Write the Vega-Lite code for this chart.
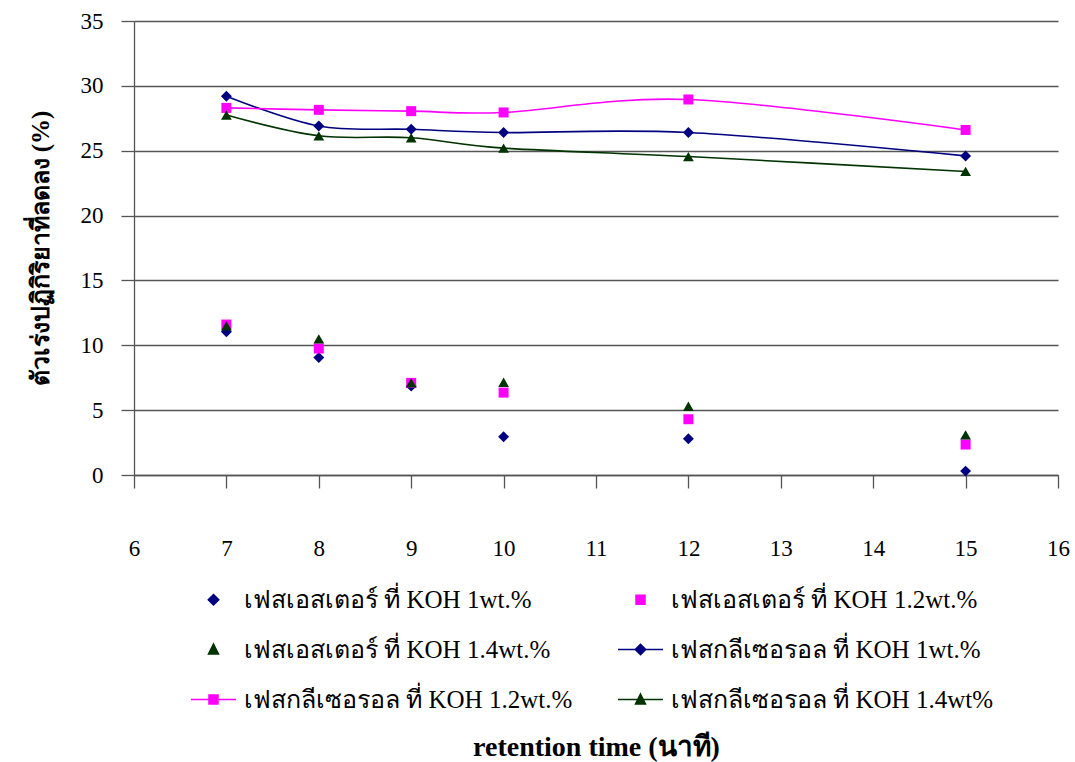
{
  "$schema": "https://vega.github.io/schema/vega-lite/v6.json",
  "width": 924,
  "height": 454,
  "autosize": {"type": "none"},
  "padding": {"left": 134, "top": 21, "right": 17, "bottom": 287},
  "background": "white",
  "config": {
    "view": {"stroke": null},
    "font": "Liberation Serif"
  },
  "data": {
    "values": [
      {"t": 7, "v": 11.05, "s": "เฟสเอสเตอร์ ที่ KOH 1wt.%", "phase": "ester", "koh": "1"},
      {"t": 8, "v": 9.05, "s": "เฟสเอสเตอร์ ที่ KOH 1wt.%", "phase": "ester", "koh": "1"},
      {"t": 9, "v": 6.85, "s": "เฟสเอสเตอร์ ที่ KOH 1wt.%", "phase": "ester", "koh": "1"},
      {"t": 10, "v": 2.95, "s": "เฟสเอสเตอร์ ที่ KOH 1wt.%", "phase": "ester", "koh": "1"},
      {"t": 12, "v": 2.8, "s": "เฟสเอสเตอร์ ที่ KOH 1wt.%", "phase": "ester", "koh": "1"},
      {"t": 15, "v": 0.3, "s": "เฟสเอสเตอร์ ที่ KOH 1wt.%", "phase": "ester", "koh": "1"},
      {"t": 7, "v": 11.6, "s": "เฟสเอสเตอร์ ที่ KOH 1.2wt.%", "phase": "ester", "koh": "1.2"},
      {"t": 8, "v": 9.75, "s": "เฟสเอสเตอร์ ที่ KOH 1.2wt.%", "phase": "ester", "koh": "1.2"},
      {"t": 9, "v": 7.1, "s": "เฟสเอสเตอร์ ที่ KOH 1.2wt.%", "phase": "ester", "koh": "1.2"},
      {"t": 10, "v": 6.35, "s": "เฟสเอสเตอร์ ที่ KOH 1.2wt.%", "phase": "ester", "koh": "1.2"},
      {"t": 12, "v": 4.3, "s": "เฟสเอสเตอร์ ที่ KOH 1.2wt.%", "phase": "ester", "koh": "1.2"},
      {"t": 15, "v": 2.35, "s": "เฟสเอสเตอร์ ที่ KOH 1.2wt.%", "phase": "ester", "koh": "1.2"},
      {"t": 7, "v": 11.5, "s": "เฟสเอสเตอร์ ที่ KOH 1.4wt.%", "phase": "ester", "koh": "1.4"},
      {"t": 8, "v": 10.5, "s": "เฟสเอสเตอร์ ที่ KOH 1.4wt.%", "phase": "ester", "koh": "1.4"},
      {"t": 9, "v": 7.1, "s": "เฟสเอสเตอร์ ที่ KOH 1.4wt.%", "phase": "ester", "koh": "1.4"},
      {"t": 10, "v": 7.15, "s": "เฟสเอสเตอร์ ที่ KOH 1.4wt.%", "phase": "ester", "koh": "1.4"},
      {"t": 12, "v": 5.3, "s": "เฟสเอสเตอร์ ที่ KOH 1.4wt.%", "phase": "ester", "koh": "1.4"},
      {"t": 15, "v": 3.1, "s": "เฟสเอสเตอร์ ที่ KOH 1.4wt.%", "phase": "ester", "koh": "1.4"},
      {"t": 7, "v": 29.2, "s": "เฟสกลีเซอรอล ที่ KOH 1wt.%", "phase": "glycerol", "koh": "1"},
      {"t": 8, "v": 26.9, "s": "เฟสกลีเซอรอล ที่ KOH 1wt.%", "phase": "glycerol", "koh": "1"},
      {"t": 9, "v": 26.65, "s": "เฟสกลีเซอรอล ที่ KOH 1wt.%", "phase": "glycerol", "koh": "1"},
      {"t": 10, "v": 26.4, "s": "เฟสกลีเซอรอล ที่ KOH 1wt.%", "phase": "glycerol", "koh": "1"},
      {"t": 12, "v": 26.4, "s": "เฟสกลีเซอรอล ที่ KOH 1wt.%", "phase": "glycerol", "koh": "1"},
      {"t": 15, "v": 24.6, "s": "เฟสกลีเซอรอล ที่ KOH 1wt.%", "phase": "glycerol", "koh": "1"},
      {"t": 7, "v": 28.3, "s": "เฟสกลีเซอรอล ที่ KOH 1.2wt.%", "phase": "glycerol", "koh": "1.2"},
      {"t": 8, "v": 28.15, "s": "เฟสกลีเซอรอล ที่ KOH 1.2wt.%", "phase": "glycerol", "koh": "1.2"},
      {"t": 9, "v": 28.05, "s": "เฟสกลีเซอรอล ที่ KOH 1.2wt.%", "phase": "glycerol", "koh": "1.2"},
      {"t": 10, "v": 27.95, "s": "เฟสกลีเซอรอล ที่ KOH 1.2wt.%", "phase": "glycerol", "koh": "1.2"},
      {"t": 12, "v": 28.95, "s": "เฟสกลีเซอรอล ที่ KOH 1.2wt.%", "phase": "glycerol", "koh": "1.2"},
      {"t": 15, "v": 26.6, "s": "เฟสกลีเซอรอล ที่ KOH 1.2wt.%", "phase": "glycerol", "koh": "1.2"},
      {"t": 7, "v": 27.75, "s": "เฟสกลีเซอรอล ที่ KOH 1.4wt%", "phase": "glycerol", "koh": "1.4"},
      {"t": 8, "v": 26.15, "s": "เฟสกลีเซอรอล ที่ KOH 1.4wt%", "phase": "glycerol", "koh": "1.4"},
      {"t": 9, "v": 26.0, "s": "เฟสกลีเซอรอล ที่ KOH 1.4wt%", "phase": "glycerol", "koh": "1.4"},
      {"t": 10, "v": 25.2, "s": "เฟสกลีเซอรอล ที่ KOH 1.4wt%", "phase": "glycerol", "koh": "1.4"},
      {"t": 12, "v": 24.55, "s": "เฟสกลีเซอรอล ที่ KOH 1.4wt%", "phase": "glycerol", "koh": "1.4"},
      {"t": 15, "v": 23.4, "s": "เฟสกลีเซอรอล ที่ KOH 1.4wt%", "phase": "glycerol", "koh": "1.4"}
    ]
  },
  "encoding": {
    "x": {
      "field": "t", "type": "quantitative",
      "scale": {"domain": [6, 16], "nice": false, "zero": false},
      "axis": {
        "title": "retention time (นาที)",
        "values": [6, 7, 8, 9, 10, 11, 12, 13, 14, 15, 16],
        "grid": false,
        "domainColor": "#555555", "domainWidth": 1.3,
        "tickColor": "#555555", "tickSize": 13, "tickWidth": 1.3,
        "labelFont": "Liberation Serif", "labelFontSize": 23, "labelColor": "#000000",
        "labelBaseline": "middle", "labelPadding": 60, "labelFlush": false,
        "titleFont": "Liberation Serif", "titleFontSize": 28, "titleFontWeight": "bold", "titleColor": "#000000",
        "titleBaseline": "middle", "titleY": 272, "titleX": 462
      }
    },
    "y": {
      "field": "v", "type": "quantitative",
      "scale": {"domain": [0, 35], "nice": false},
      "axis": {
        "title": "ตัวเร่งปฏิกิริยาที่ลดลง (%)",
        "values": [0, 5, 10, 15, 20, 25, 30, 35],
        "grid": true, "gridColor": "#555555", "gridWidth": 1.3,
        "domainColor": "#555555", "domainWidth": 1.3,
        "tickColor": "#555555", "tickSize": 13, "tickWidth": 1.3,
        "labelFont": "Liberation Serif", "labelFontSize": 23, "labelColor": "#000000", "labelPadding": 18,
        "titleFont": "Liberation Serif", "titleFontSize": 25, "titleFontWeight": "bold", "titleColor": "#000000",
        "titleBaseline": "middle", "titleAngle": -90, "titleX": -94, "titleY": 227
      }
    }
  },
  "layer": [
    {
      "mark": {"type": "point", "filled": true, "opacity": 0},
      "encoding": {
        "color": {
          "field": "s", "type": "nominal",
          "scale": {
            "domain": ["เฟสเอสเตอร์ ที่ KOH 1wt.%", "เฟสเอสเตอร์ ที่ KOH 1.4wt.%", "เฟสกลีเซอรอล ที่ KOH 1.2wt.%", "เฟสเอสเตอร์ ที่ KOH 1.2wt.%", "เฟสกลีเซอรอล ที่ KOH 1wt.%", "เฟสกลีเซอรอล ที่ KOH 1.4wt%"],
            "range": ["#000080", "#003300", "#FF00FF", "#FF00FF", "#000080", "#003300"]
          },
          "legend": {
            "title": null, "orient": "none", "legendX": 67, "legendY": 566,
            "columns": 2, "columnPadding": 42, "rowPadding": 24, "padding": 0,
            "symbolSize": 100, "symbolOpacity": 1, "symbolStrokeWidth": 1.5,
            "labelFont": "Liberation Serif", "labelFontSize": 25, "labelColor": "#000000",
            "labelOffset": 18, "labelLimit": 600,
            "encode": {
              "symbols": {
                "update": {
                  "stroke": {"scale": "color", "field": "value"},
                  "strokeWidth": {"value": 1.5},
                  "opacity": {"value": 1},
                  "fillOpacity": {"value": 1},
                  "strokeOpacity": {"value": 1}
                }
              }
            }
          }
        },
        "shape": {
          "field": "s", "type": "nominal",
          "scale": {
            "domain": ["เฟสเอสเตอร์ ที่ KOH 1wt.%", "เฟสเอสเตอร์ ที่ KOH 1.4wt.%", "เฟสกลีเซอรอล ที่ KOH 1.2wt.%", "เฟสเอสเตอร์ ที่ KOH 1.2wt.%", "เฟสกลีเซอรอล ที่ KOH 1wt.%", "เฟสกลีเซอรอล ที่ KOH 1.4wt%"],
            "range": [
              "M0,-1.05L1.05,0L0,1.05L-1.05,0Z",
              "M0,-1.1L1,0.9H-1Z",
              "M-4.5,0H4.5M-0.9,-0.9H0.9V0.9H-0.9Z",
              "M-0.9,-0.9H0.9V0.9H-0.9Z",
              "M-4.5,0H4.5M0,-1.05L1.05,0L0,1.05L-1.05,0Z",
              "M-4.5,0H4.5M0,-1.1L1,0.9H-1Z"
            ]
          }
        }
      }
    },
    {
      "transform": [{"filter": "datum.phase === 'glycerol'"}],
      "mark": {"type": "line", "interpolate": "cardinal", "strokeWidth": 1.6},
      "encoding": {
        "color": {"field": "s", "type": "nominal", "legend": null}
      }
    },
    {
      "transform": [{"filter": "datum.koh === '1'"}],
      "mark": {"type": "point", "filled": true, "shape": "diamond", "size": 120, "opacity": 1},
      "encoding": {
        "color": {"field": "s", "type": "nominal", "legend": null}
      }
    },
    {
      "transform": [{"filter": "datum.koh === '1.2'"}],
      "mark": {"type": "point", "filled": true, "shape": "square", "size": 100, "opacity": 1},
      "encoding": {
        "color": {"field": "s", "type": "nominal", "legend": null}
      }
    },
    {
      "transform": [{"filter": "datum.koh === '1.4'"}],
      "mark": {"type": "point", "filled": true, "shape": "triangle-up", "size": 115, "opacity": 1},
      "encoding": {
        "color": {"field": "s", "type": "nominal", "legend": null}
      }
    }
  ]
}
